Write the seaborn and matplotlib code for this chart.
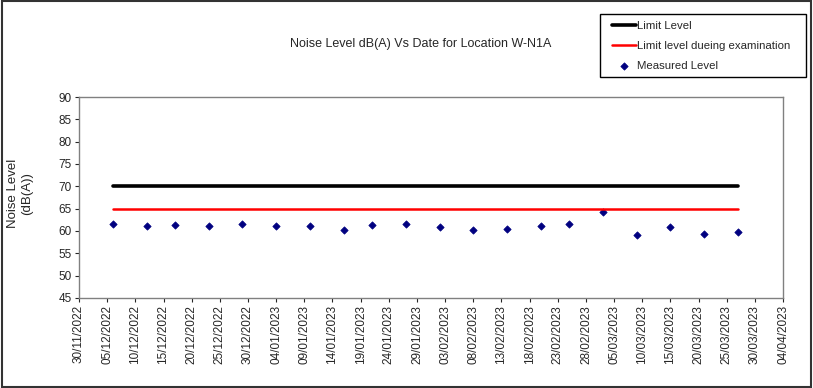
import matplotlib
matplotlib.use("Agg")
import matplotlib.pyplot as plt
import matplotlib.dates as mdates
from matplotlib.patches import Rectangle
import pandas as pd
import seaborn as sns

dates = [
    "2022-12-06", "2022-12-12", "2022-12-17", "2022-12-23", "2022-12-29",
    "2023-01-04", "2023-01-10", "2023-01-16", "2023-01-21", "2023-01-27",
    "2023-02-02", "2023-02-08", "2023-02-14", "2023-02-20", "2023-02-25",
    "2023-03-03", "2023-03-09", "2023-03-15", "2023-03-21", "2023-03-27",
]
measured = [
    61.6, 61.2, 61.3, 61.1, 61.5,
    61.1, 61.2, 60.2, 61.3, 61.6,
    61.0, 60.3, 60.5, 61.1, 61.5,
    64.3, 59.1, 61.0, 59.3, 59.8,
]
limit_level = 70
exam_limit = 65

title = "Noise Level dB(A) Vs Date for Location W-N1A"
y_ticks = [45, 50, 55, 60, 65, 70, 75, 80, 85, 90]

df = pd.DataFrame({"date": pd.to_datetime(dates), "level": measured})
df["limit"] = limit_level
df["exam"] = exam_limit

sns.set_style("white")
plt.rcParams["font.family"] = ["Liberation Sans", "DejaVu Sans"]

fig = plt.figure(figsize=(8.13, 3.88), dpi=100)
ax = fig.add_axes([0.0972, 0.232, 0.866, 0.518])

sns.lineplot(data=df, x="date", y="limit", color="black", linewidth=2.6, ax=ax, label="Limit Level")
sns.lineplot(data=df, x="date", y="exam", color="#ff0000", linewidth=1.8, ax=ax,
             label="Limit level dueing examination")
sns.scatterplot(data=df, x="date", y="level", color="#000080", marker="D", s=14,
                edgecolor="#000080", linewidth=0.5, ax=ax, label="Measured Level")

# Axes
ax.set_ylim(45, 90)
ax.set_yticks(y_ticks)
ax.set_xlim(pd.Timestamp("2022-11-30"), pd.Timestamp("2023-04-04"))
ax.set_xticks(pd.date_range("2022-11-30", "2023-04-04", freq="5D"))
ax.xaxis.set_major_formatter(mdates.DateFormatter("%d/%m/%Y"))
ax.tick_params(axis="x", rotation=90, labelsize=8.5, length=3, direction="out", bottom=True, pad=2)
ax.tick_params(axis="y", labelsize=8.5, length=3, direction="out", left=True, pad=2)
ax.set_xlabel("")
ax.set_ylabel("Noise Level\n(dB(A))", fontsize=9.5)
ax.yaxis.set_label_coords(-0.065, 0.52)
for s in ax.spines.values():
    s.set_color("#808080")
    s.set_linewidth(1)

fig.text(0.517, 0.886, title, ha="center", va="center", fontsize=9)

# Legend in its own box, upper right
handles, labels = ax.get_legend_handles_labels()
ax.get_legend().remove()
fig.legend(handles, labels, loc="upper left", bbox_to_anchor=(0.7528, 0.945),
           fontsize=8.2, frameon=False, handlelength=2.1, handletextpad=0.1,
           borderpad=0, labelspacing=0.85, borderaxespad=0)
fig.add_artist(Rectangle((0.738, 0.8015), 0.253, 0.1625, transform=fig.transFigure,
                         fill=False, edgecolor="black", linewidth=1))

# Outer chart border
fig.add_artist(Rectangle((0.002, 0.003), 0.996, 0.994, transform=fig.transFigure,
                         fill=False, edgecolor="#333333", linewidth=1.5))

fig.savefig("out.png", dpi=100)
